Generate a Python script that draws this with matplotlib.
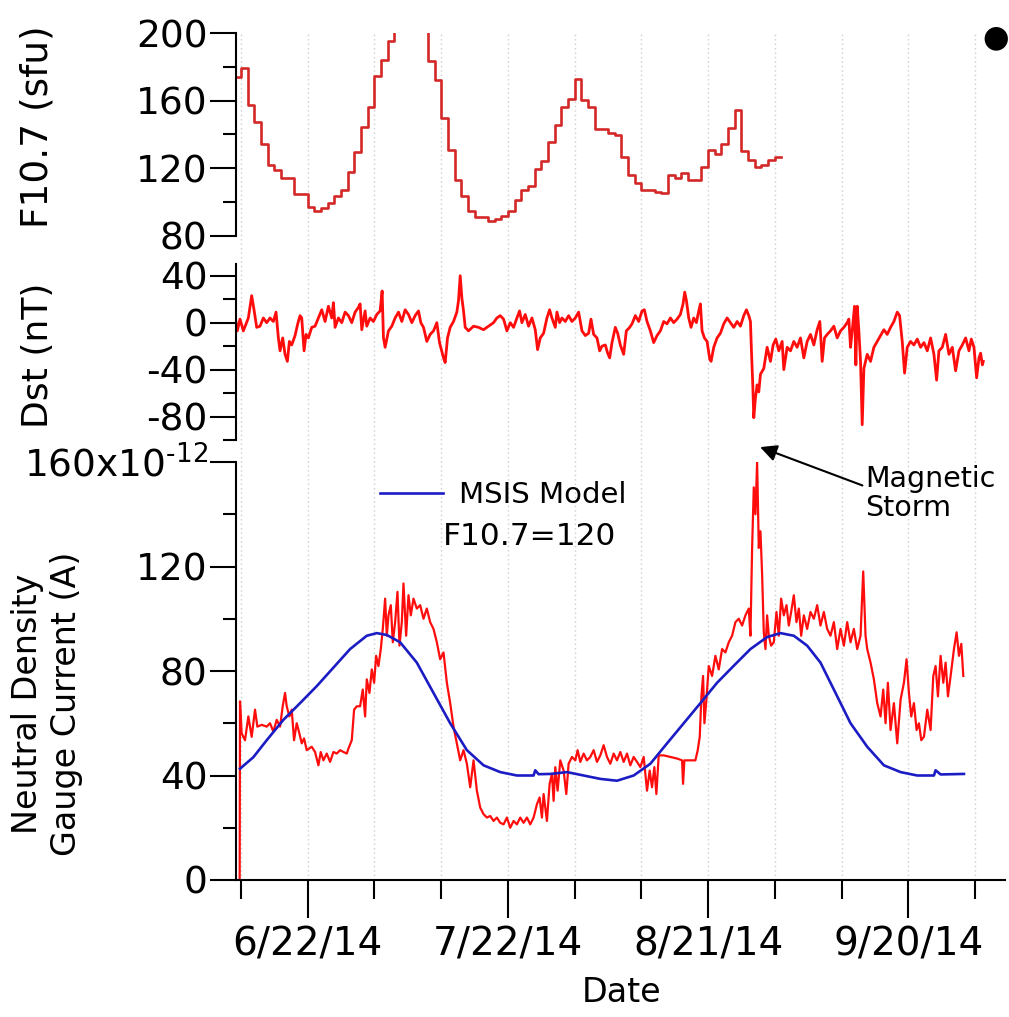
import datetime
import numpy as np
import matplotlib
matplotlib.use("Agg")
import matplotlib.pyplot as plt
import matplotlib.dates as mdates
from matplotlib.ticker import FixedLocator, FuncFormatter

# ---- data ----
# F10.7 daily values starting 2014-06-11
f107_start = datetime.datetime(2014, 6, 11)
f107 = [173.9, 179.6, 157.4, 147.5, 134.3, 121.8, 118.8, 114.3, 114.3, 105, 105,
        97, 95, 96.6, 99.8, 103.4, 107, 117.8, 129.7, 144.6, 156.4, 174.3, 183.8,
        195, 201, 210, 216, 212, 205, 183.2, 172.3, 149.5, 130.7, 112.9, 103.4,
        95, 91.5, 91.5, 88.7, 90, 92, 95, 101.4, 107, 109.3, 119.8, 124.4, 135.6,
        145.5, 156.4, 161, 173, 160.4, 156, 143, 143, 140.6, 139.6, 126.7, 115.8,
        111.3, 107.3, 107.3, 106, 105.3, 115.8, 114.5, 117.4, 112.9, 112.9, 120.8,
        130.7, 128.7, 134.3, 144, 154.5, 130.3, 125.1, 120.8, 121.8, 124.8, 126.7]

# Dst: days after 2014-06-12, nT
dst_day = [-0.85, -0.55, -0.15, 0.35, 1.1, 1.6, 1.95, 2.35, 2.85, 3.35, 3.85, 4.35,
           4.85, 5.25, 5.6, 5.85, 6.25, 6.6, 6.95, 7.25, 7.6, 8.1, 8.5, 8.85, 9.1,
           9.45, 9.75, 10.1, 10.6, 11.1, 11.6, 12.1, 12.6, 13.1, 13.6, 13.85, 14.1,
           14.6, 15.1, 15.6, 16.1, 16.6, 17.1, 17.6, 17.85, 18.1, 18.6, 18.85, 19.35,
           19.85, 20.35, 20.85, 21.15, 21.35, 21.6, 22.1, 22.6, 23.1, 23.6, 24.1,
           24.6, 25.1, 25.6, 26.1, 26.6, 26.95, 27.35, 27.85, 28.35, 28.85, 29.35,
           29.75, 30.35, 30.6, 30.95, 31.35, 31.85, 32.35, 32.6, 32.85, 33.1, 33.35,
           33.6, 34.1, 34.85, 35.6, 36.35, 37.1, 37.85, 38.35, 38.85,
           39.35, 39.85, 40.35, 40.85, 41.35, 41.75, 42.1, 42.6, 43.1, 43.6, 44.1,
           44.45, 44.85, 45.35, 45.85, 46.25, 46.6, 47.1, 47.35, 47.75, 48.1, 48.6,
           49.1, 49.6, 50.1, 50.6, 51.1, 51.6, 52.1, 52.45, 52.85, 53.35, 53.75,
           54.1, 54.6, 54.95, 55.25, 55.6, 56.1, 56.45, 56.85, 57.35, 57.75, 58.25,
           58.6, 59.1, 59.6, 60.1, 60.45, 60.85, 61.35, 61.85, 62.35, 62.85, 63.35,
           63.85, 64.35, 64.85, 65.35, 65.85, 66.25, 66.5, 66.75, 67.1, 67.45, 67.85,
           68.25, 68.6, 68.85, 69.1, 69.45, 69.85, 70.25, 70.45, 70.85, 71.35, 71.85,
           72.35, 72.85, 73.35, 73.85, 74.35, 74.85, 75.35, 75.75, 76.1, 76.35, 76.5,
           76.7, 76.85, 77.1, 77.35, 77.6, 77.85, 78.35, 78.85, 79.35, 79.75, 80.15,
           80.6, 81.1, 81.35, 81.85, 82.35, 82.85, 83.35, 83.85, 84.35, 84.85, 85.35,
           85.85, 86.35, 86.75, 87.1, 87.45, 87.85, 88.35, 88.85, 89.35, 89.85, 90.35,
           90.85, 91.1, 91.35, 91.6, 91.95, 92.15, 92.35, 92.6, 92.85, 93.1, 93.35,
           93.85, 94.35, 94.85, 95.35, 95.85, 96.35, 96.85, 97.35, 97.85, 98.35, 98.7,
           99.1, 99.45, 99.85, 100.35, 100.85, 101.35, 101.85, 102.35, 102.85, 103.35,
           103.85, 104.25, 104.6, 105.1, 105.6, 106.1, 106.6, 107.1, 107.6, 108.1,
           108.6, 109.1, 109.45, 109.85, 110.25, 110.6, 110.85, 111.1, 111.25]
dst = [4, -7, 3, -7, 4, 23, 11, -4, -3, 4, 0, 4,
       1, 9, -13, -24, -13, -27, -33, -16, -19, -11, -1, 6, 4,
       -24, -10, -13, -4, -3, 4, 11, 1, 14, 4, 17, -4,
       4, 0, 9, 6, 0, 9, 13, 16, -6, 10, -3, 4,
       1, 7, 10, 27, -13, -21, -7, -3, 4, 9, 1,
       11, 7, 0, 6, 10, 0, -4, -16, -10, -7, 0,
       -17, -30, -34, -13, -4, 1, 9, 19, 40, 21, 10,
       -4, -7, -3, -4, -6, -3, 0, 4, 6,
       3, -7, 0, -4, 4, 10, 0, 7, -3, 4, -6,
       -23, -13, -9, 4, 11, 4, -4, 9, 0, 4, 1,
       6, 1, 4, 9, -7, -11, -9, 3, -10, -13, -24,
       -20, -19, -26, -30, -17, -4, -9, -19, -27, -7, -4,
       -1, 6, 1, 10, 11, 1, -7, -17, -11, -7, 1,
       -1, 4, 0, 3, 7, 16, 26, 19, 4, -4, 4,
       0, 10, 16, -7, -13, -16, -31, -33, -21, -13, -9,
       -1, 4, 0, -4, 1, -3, 6, 11, 6, 1, -24,
       -53, -81, -64, -53, -59, -44, -39, -21, -33, -19, -14,
       -24, -16, -40, -21, -24, -16, -21, -13, -30, -16, -10,
       -19, -6, 1, -33, -13, -10, -7, -3, -13, -7, -4,
       0, 3, -21, -7, 14, -36, 14, -7, -33, -87, -39,
       -27, -33, -21, -16, -11, -6, -10, -4, 1, 9, 6,
       -16, -43, -21, -16, -19, -14, -21, -17, -24, -13,
       -27, -49, -24, -21, -10, -27, -21, -41, -24, -19,
       -13, -24, -14, -21, -47, -30, -26, -36, -33]

# neutral density gauge current (x1e-12 A)
nd_day = [-0.2, -0.15, 0.1, 0.6, 1.1, 1.6, 2.1, 2.45, 3.1, 3.85, 4.35, 4.85, 5.35,
          5.85, 6.25, 6.6, 6.85, 7.25, 7.6, 7.95, 8.35, 8.75, 9.1, 9.45, 9.85,
          10.6, 11.1, 11.6, 11.95, 12.35, 12.85, 13.35, 13.85, 14.35, 14.85, 15.35,
          15.85, 16.1, 16.6, 16.95, 17.35, 17.85, 18.25, 18.6, 18.85, 19.25, 19.6,
          19.95, 20.25, 20.6, 20.95, 21.25, 21.6, 21.85, 22.1, 22.45, 22.75, 23.1,
          23.45, 23.75, 24.1, 24.35, 24.75, 25.1, 25.45, 25.85, 26.35, 26.85, 27.35,
          27.85, 28.35, 28.85, 29.35, 29.85, 30.35, 30.85, 31.35, 31.85, 32.35,
          32.85, 33.35, 33.85, 34.35, 34.85, 35.35, 35.85, 36.35, 36.85, 37.35,
          37.85, 38.35, 38.85,
          39.35, 39.85, 40.35, 40.85, 41.35, 41.85, 42.35, 42.85, 43.35, 43.85,
          44.35, 44.75, 45.1, 45.35, 45.85, 46.25, 46.6, 46.85, 47.1, 47.45, 47.85,
          48.35, 48.75, 49.1, 49.6, 50.1, 50.45, 50.85, 51.35, 51.85, 52.35, 52.85,
          53.35, 53.85, 54.35, 54.85, 55.35, 55.85, 56.35, 56.85, 57.35, 57.85,
          58.35, 58.85, 59.35, 59.85, 60.35, 60.85, 61.25, 61.6, 61.95, 62.25, 62.6,
          63.35, 64.35, 65.35, 66.1, 66.25, 66.45, 67.35, 68.1, 68.45, 68.75, 69.0,
          69.25, 69.45, 69.75, 70.1, 70.6, 71.1, 71.6, 72.1, 72.6, 73.1, 73.6, 74.1,
          74.6, 75.1, 75.6, 76.1, 76.35, 76.6, 76.85, 77.1, 77.35, 77.6, 77.85, 78.1,
          78.35, 78.6, 78.85, 79.1, 79.45, 79.85, 80.25, 80.6, 80.95, 81.35, 81.75,
          82.1, 82.45, 82.85, 83.25, 83.6, 83.95, 84.35, 84.85, 85.35, 85.85, 86.35,
          86.85, 87.35, 87.85, 88.35, 88.85, 89.35, 89.85, 90.35, 90.85, 91.35,
          91.85, 92.35, 92.85, 93.25, 93.6, 93.85, 94.35, 94.85, 95.35, 95.85, 96.25,
          96.6, 96.95, 97.35, 97.85, 98.35, 98.85, 99.35, 99.75, 100.1, 100.45,
          100.85, 101.25, 101.6, 101.95, 102.35, 102.85, 103.35, 103.75, 104.1,
          104.45, 104.85, 105.25, 105.6, 105.95, 106.35, 106.85, 107.25, 107.6,
          107.95, 108.25]
nd = [0, 68.4, 56.1, 53.5, 62.6, 54.8, 65.2, 58.7, 59.4, 58.7, 60, 56.8, 61.3,
      58.7, 66.5, 71.6, 66.5, 62.6, 65.2, 53.5, 60, 56.1, 52.3, 54.2, 49.7,
      51, 49, 43.9, 49, 45.8, 48.4, 45.2, 49, 48.4, 49.7, 49,
      48.4, 50.3, 53.5, 65.2, 66.5, 66.5, 72.9, 62.6, 76.8, 71.6, 80.6,
      75.5, 85.8, 81.9, 88.4, 96.1, 107.7, 93.5, 101.3, 105.2, 91, 98.7,
      110.3, 89.7, 98.7, 113.5, 93.5, 109, 101.3, 107.7, 103.9, 105.2, 100,
      103.9, 98.7, 96.1, 91, 84.5, 87.1, 75.5, 67.7, 58.7, 52.3,
      45.8, 49.7, 44.5, 35.5, 45.8, 34.2, 27.7, 25.2, 23.9, 24.5,
      22.6, 23.9, 21.9,
      21.3, 23.9, 20, 22.6, 21.3, 23.9, 21.9, 23.9, 21.3, 23.9,
      29, 31.6, 23.9, 32.9, 22.6, 36.8, 40.6, 30.3, 43.2, 34.2, 45.8,
      41.9, 32.9, 44.5, 47.1, 45.8, 49.7, 45.2, 48.4, 45.8, 47.1, 49.7,
      45.2, 47.7, 51.6, 47.1, 44.5, 48.4, 45.8, 49, 45.2, 48.4,
      43.9, 47.1, 45.2, 43.2, 47.1, 34.2, 41.9, 35.5, 43.2, 32.9, 47.7,
      47.7, 47.1, 46.5, 45.8, 36.8, 45.8, 45.8, 45.8, 49.7, 54.8, 70.3,
      78.1, 60, 69, 81.9, 78.1, 85.8, 80.6, 88.4, 87.1, 91, 93.5, 98.7,
      100, 97.4, 101.3, 103.9, 93.5, 127.1, 150.3, 140, 160, 127.1, 133.5, 116.8,
      94.8, 88.4, 101.3, 93.5, 89.7, 91, 102.6, 93.5, 107.7, 101.3, 105.2,
      97.4, 102.6, 109, 98.7, 103.9, 93.5, 101.3, 96.1, 102.6, 100, 105.2,
      97.4, 102.6, 96.1, 93.5, 98.7, 88.4, 96.1, 89.7, 98.7, 91,
      96.1, 88.4, 93.5, 118.1, 93.5, 88.4, 83.2, 76.8, 67.7, 62.6, 72.9,
      60, 75.5, 57.4, 67.7, 52.3, 69, 75.5, 84.5, 71.6, 62.6,
      67.7, 57.4, 60, 53.5, 54.8, 65.2, 57.4, 78.1, 81.9,
      70.3, 85.8, 75.5, 83.2, 70.3, 78.1, 88.4, 94.8, 85.8,
      90.4, 78.1]

# MSIS model, F10.7 = 120
msis_day = [-0.15, 1.85, 3.85, 6.35, 8.85, 11.35, 13.85, 16.35, 18.85, 20.35, 21.85,
            23.85, 26.35, 28.85, 31.35, 33.85, 36.35, 38.85, 41.35, 43.85, 44.1, 44.6,
            46.35, 48.85, 51.35, 53.85, 56.35, 58.85, 61.35, 63.85, 66.35, 68.85,
            71.35, 73.85, 76.35, 78.85, 80.85, 82.85, 84.85, 86.85, 88.85, 91.35,
            93.85, 96.35, 98.85, 101.35, 103.85, 104.1, 104.85, 108.35]
msis = [42.6, 47, 53.5, 61.3, 67.7, 74.2, 81.3, 88.4, 93.5, 94.5, 93.8,
        91, 83.2, 71.6, 60, 49.7, 43.9, 41.3, 40, 40, 42, 40.5,
        40.6, 41.3, 40, 38.7, 38, 40, 44.5, 52.3, 60, 67.7,
        75.5, 82, 88.4, 93, 94.5, 93.5, 89.7, 83.2, 72.9, 60,
        51, 43.9, 41.3, 40, 40, 42, 40.4, 40.6]

# ---- plotting ----
plt.rcParams['font.family'] = ['DejaVu Sans']
plt.rcParams['mathtext.default'] = 'regular'
plt.rcParams['axes.unicode_minus'] = False

T0 = mdates.date2num(datetime.datetime(2014, 6, 12))
f107_x = mdates.date2num(f107_start) + np.arange(len(f107) + 1)
f107_y = f107 + [f107[-1]]

FW, FH = 1009, 1017
fig = plt.figure(figsize=(FW / 100, FH / 100), dpi=100)


def frame(top, bot, left=236, right=1005):
    return [left / FW, 1 - bot / FH, (right - left) / FW, (bot - top) / FH]


xmin, xmax = T0 - 0.75, T0 + 114.5
grid_ticks = T0 + np.arange(0, 111, 10)
major_ticks = T0 + np.array([10, 40, 70, 100])

# background axes only for the dotted verticals every 10 days
ax_g = fig.add_axes(frame(33, 880))
ax_g.set_xlim(xmin, xmax)
ax_g.set_ylim(0, 1)
ax_g.axis('off')
for t in grid_ticks:
    ax_g.axvline(t, color='#cdcdcd', linestyle=(0, (1.0, 2.2)), linewidth=1.0)

ax_f = fig.add_axes(frame(33, 236))
ax_d = fig.add_axes(frame(264, 440))
ax_n = fig.add_axes(frame(462, 880))

for ax in (ax_f, ax_d, ax_n):
    ax.set_xlim(xmin, xmax)
    ax.set_facecolor('none')
    ax.spines['top'].set_visible(False)
    ax.spines['right'].set_visible(False)
    ax.spines['left'].set_linewidth(1.5)
    ax.spines['bottom'].set_linewidth(1.5)
    ax.tick_params(axis='y', which='major', length=19, width=1.5, labelsize=27, pad=1.5)
    ax.tick_params(axis='y', which='minor', length=9.5, width=1.5)

for ax in (ax_f, ax_d):
    ax.spines['bottom'].set_visible(False)
    ax.tick_params(axis='x', which='both', bottom=False, labelbottom=False)

# F10.7
ax_f.step(f107_x, f107_y, where='post', color='#d42828', lw=1.9)
ax_f.set_ylim(80, 200)
ax_f.yaxis.set_major_locator(FixedLocator([80, 120, 160, 200]))
ax_f.yaxis.set_minor_locator(FixedLocator([100, 140, 180]))

# Dst
ax_d.plot(T0 + np.array(dst_day), dst, color='#ff0d0d', lw=2.0)
ax_d.set_ylim(-100, 50)
ax_d.yaxis.set_major_locator(FixedLocator([-80, -40, 0, 40]))
ax_d.yaxis.set_minor_locator(FixedLocator([-100, -60, -20, 20]))

# neutral density
ax_n.plot(T0 + np.array(nd_day), nd, color='#ff0d0d', lw=1.6)
msis_line, = ax_n.plot(T0 + np.array(msis_day), msis, color='#1c1cc4', lw=1.9,
                       label='MSIS Model')
ax_n.set_ylim(0, 160)
ax_n.yaxis.set_major_locator(FixedLocator([0, 40, 80, 120, 160]))
ax_n.yaxis.set_minor_locator(FixedLocator([20, 60, 100, 140]))
ax_n.yaxis.set_major_formatter(FuncFormatter(
    lambda v, p: '160x10$^{\u201012}$' if v == 160 else f'{v:.0f}'))

ax_n.xaxis.set_major_locator(FixedLocator(major_ticks))
ax_n.xaxis.set_minor_locator(FixedLocator(grid_ticks))


def date_label(v, pos):
    d = mdates.num2date(v)
    return f"{d.month}/{d.day}/{d:%y}"


ax_n.xaxis.set_major_formatter(FuncFormatter(date_label))
ax_n.tick_params(axis='x', which='major', length=27, width=1.5, labelsize=28, pad=6)
ax_n.tick_params(axis='x', which='minor', length=14, width=1.5)

ax_n.legend(handles=[msis_line], loc='center left', bbox_to_anchor=(0.187, 0.921),
            frameon=False, fontsize=21, handlelength=2.17, handletextpad=0.55,
            borderpad=0, borderaxespad=0)
ax_n.text(0.269, 0.8206, 'F10.7=120', transform=ax_n.transAxes, fontsize=22.5,
          ha='left', va='center')

ax_n.annotate('Magnetic\nStorm', xy=(T0 + 77.8, 165.7), xytext=(T0 + 93.55, 148.0),
              ha='left', va='center', fontsize=20.5, linespacing=1.05,
              arrowprops=dict(arrowstyle='-|>', color='black', lw=1.5,
                              mutation_scale=25, relpos=(0, 0.62),
                              shrinkA=0, shrinkB=0),
              annotation_clip=False)

# axis titles
fig.text(38 / FW, 1 - 127 / FH, 'F10.7 (sfu)', rotation=90, ha='center', va='center',
         fontsize=27)
fig.text(38 / FW, 1 - 355 / FH, 'Dst (nT)', rotation=90, ha='center', va='center',
         fontsize=26)
fig.text(47 / FW, 1 - 704 / FH, 'Neutral Density\nGauge Current (A)', rotation=90,
         ha='center', va='center', fontsize=24, multialignment='center',
         linespacing=1.25)
fig.text(622 / FW, 1 - 993 / FH, 'Date', ha='center', va='center', fontsize=24)
fig.text(996 / FW, 1 - 38 / FH, '\u25cf', ha='center', va='center', fontsize=22)

fig.savefig('out.png', dpi=100)
